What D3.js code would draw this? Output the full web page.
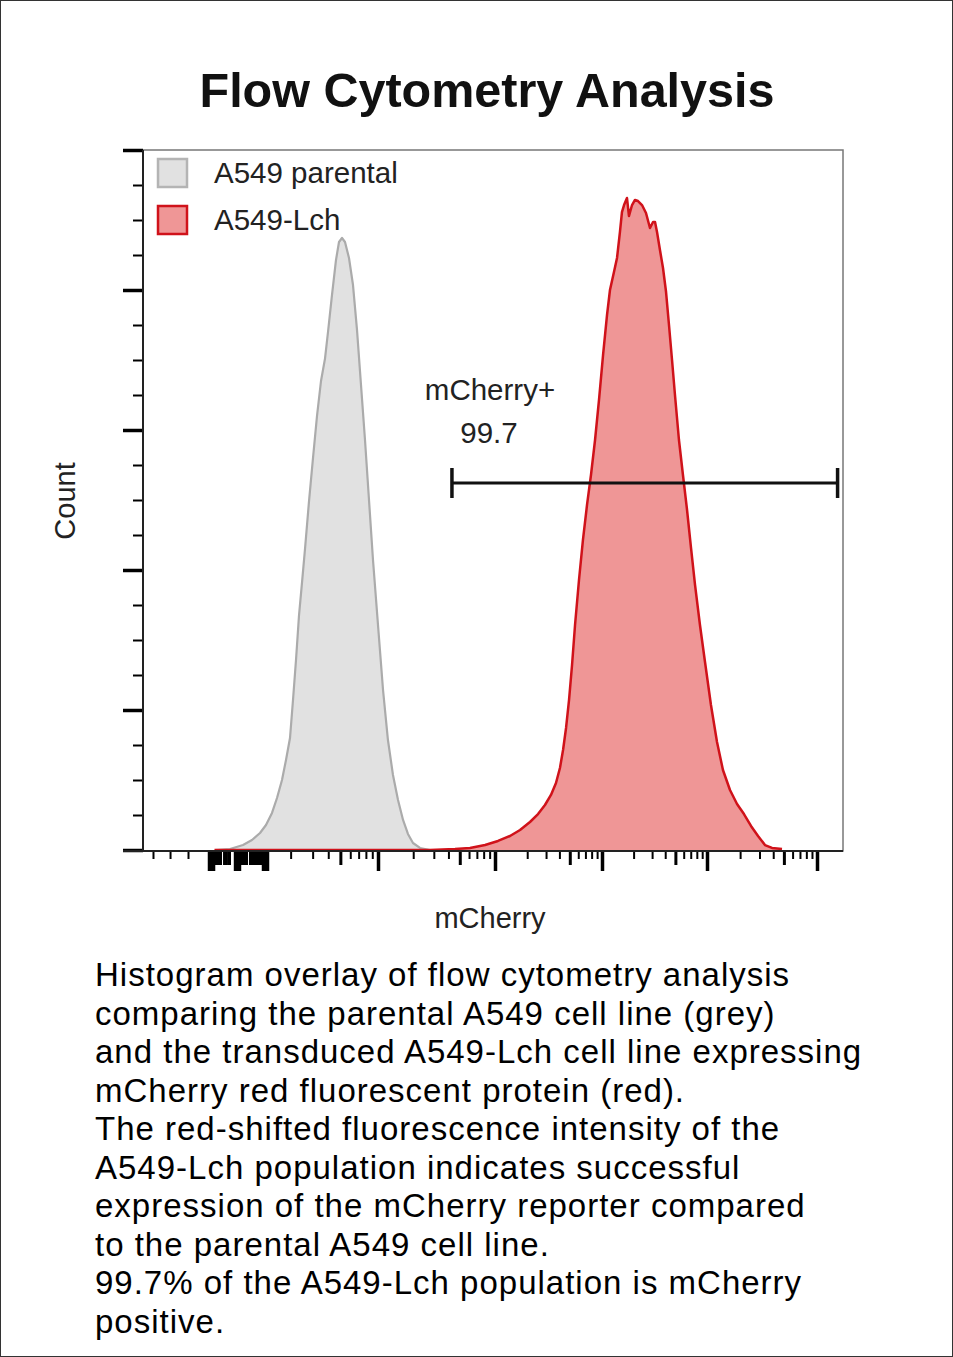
<!DOCTYPE html>
<html>
<head>
<meta charset="utf-8">
<script src="https://cdn.jsdelivr.net/npm/d3@7"></script>
<style>
  body { margin: 0; background: #fff; }
  #container { width: 953px; height: 1357px; }
</style>
</head>
<body>
<div id="container"></div>
<script>
/* DATA */
// x = log10 mCherry intensity (biex display), y = count (% of axis max)
const parentalX = [-0.415, -0.251, -0.109, -0.011, 0.056, 0.104, 0.152, 0.192, 0.232, 0.264, 0.296, 0.32, 0.344, 0.368, 0.392, 0.416, 0.448, 0.48, 0.512, 0.544, 0.576, 0.6, 0.632, 0.664, 0.688, 0.712, 0.736, 0.768, 0.8, 0.832, 0.864, 0.896, 0.928, 0.96, 1.0, 1.043, 1.085, 1.128, 1.171, 1.214, 1.256, 1.299, 1.359, 1.444];
const parentalY = [0, 0.14, 0.71, 1.43, 2.43, 3.57, 5.29, 7.43, 10, 12.86, 16, 21.43, 27.14, 33.5, 38.2, 43, 49.8, 56, 62, 67, 70.2, 74, 79.29, 84.29, 86.86, 87.43, 86.86, 84.57, 80.71, 74.29, 66.43, 58.57, 50, 41.43, 32.14, 22.86, 15.71, 10.71, 7.14, 4.29, 2.29, 1, 0.29, 0];

const lchX = [-0.42, 1.444, 1.658, 1.786, 1.915, 2.028, 2.14, 2.234, 2.327, 2.402, 2.467, 2.523, 2.57, 2.607, 2.636, 2.664, 2.692, 2.72, 2.748, 2.785, 2.822, 2.86, 2.897, 2.935, 2.972, 3.01, 3.048, 3.076, 3.114, 3.143, 3.171, 3.19, 3.21, 3.238, 3.257, 3.286, 3.314, 3.343, 3.381, 3.419, 3.457, 3.486, 3.505, 3.524, 3.552, 3.581, 3.61, 3.638, 3.667, 3.695, 3.733, 3.771, 3.81, 3.848, 3.886, 3.933, 3.981, 4.036, 4.091, 4.145, 4.209, 4.273, 4.336, 4.4, 4.464, 4.527, 4.591, 4.682];
const lchY = [0, 0, 0.14, 0.29, 0.71, 1.29, 2, 2.86, 4, 5.14, 6.43, 7.86, 9.57, 11.71, 14.29, 17.43, 21.43, 26.43, 32.14, 38.57, 44.29, 49.29, 53.57, 58.57, 64.29, 70.71, 76.43, 80, 82.57, 84.57, 88.29, 91.14, 92.14, 93.14, 90.57, 92.14, 92.86, 92.71, 92.14, 91, 88.86, 89.71, 89.71, 88.29, 85.71, 83.14, 79.71, 75, 70, 65, 58.57, 53.57, 48.57, 43.14, 37.86, 32.14, 26.86, 20.71, 15.43, 11.43, 8.57, 6.57, 5.14, 3.43, 2, 0.71, 0.29, 0.14];

const seriesNames = ["A549 parental", "A549-Lch"];
const gateLabel = "mCherry+";
const gateValue = "99.7";
const gateRange = [1.632, 5.19];
const gateLevel = 52.43;

// axis ticks (x in log10 units)
const xDecades = [0, 1, 2, 3, 4];
const xMajorTicks = [1, 2, 3, 4, 5];
const xNegTicks = [-1.091, -0.905, -0.709];
const xZeroBigTicks = [-0.48, -0.458, -0.436, -0.196, -0.175, -0.153, 0.08, 0.096, 0.112];
const xZeroMidTicks = [-0.404, -0.382, -0.36, -0.316, -0.295, -0.262, -0.12, -0.098, -0.076, -0.033, -0.011, 0.016, 0.04, 0.056];
const yMajorTicks = [0, 20, 40, 60, 80, 100];
const yMinorTicks = d3.range(0, 100, 5).filter(v => v % 20 !== 0);

const captionLines = [
  "Histogram overlay of flow cytometry analysis",
  "comparing the parental A549 cell line (grey)",
  "and the transduced A549-Lch cell line expressing",
  "mCherry red fluorescent protein (red).",
  "The red-shifted fluorescence intensity of the",
  "A549-Lch population indicates successful",
  "expression of the mCherry reporter compared",
  "to the parental A549 cell line.",
  "99.7% of the A549-Lch population is mCherry",
  "positive."
];

/* CONSTANTS */
const width = 953, height = 1357;
const plot = { left: 143, right: 843, top: 150, bottom: 850 };
const labelFont = "'Liberation Sans', Arial, sans-serif";

/* SCALES */
// piecewise scale mimicking the biexponential display
const xScale = d3.scaleLinear()
  .domain([-1.2, 0, 1, 2, 3, 4, 5, 5.24])
  .range([143, 253, 378, 495, 602, 707, 817, 843]);

const yScale = d3.scaleLinear()
  .domain([0, 100])
  .range([plot.bottom, plot.top]);

const svg = d3.select("#container")
  .append("svg")
  .attr("width", width)
  .attr("height", height);

// page border
svg.append("rect")
  .attr("x", 0.5).attr("y", 0.5)
  .attr("width", width - 1).attr("height", height - 1)
  .attr("fill", "none").attr("stroke", "#333");

// title
svg.append("text")
  .attr("x", 487).attr("y", 107)
  .attr("text-anchor", "middle")
  .attr("font-family", labelFont)
  .attr("font-weight", "bold")
  .attr("font-size", 48.5)
  .attr("fill", "#111")
  .text("Flow Cytometry Analysis");

// plot frame
svg.append("rect")
  .attr("x", plot.left).attr("y", plot.top)
  .attr("width", plot.right - plot.left).attr("height", plot.bottom - plot.top + 1)
  .attr("fill", "none").attr("stroke", "#777").attr("stroke-width", 1.5);

/* HISTOGRAMS */
const area = d3.area()
  .x(d => xScale(d[0]))
  .y0(yScale(0))
  .y1(d => yScale(d[1]));

const line = d3.line()
  .x(d => xScale(d[0]))
  .y(d => yScale(d[1]));

const parental = parentalX.map((x, i) => [x, parentalY[i]]);
const lch = lchX.map((x, i) => [x, lchY[i]]);

svg.append("path").datum(parental)
  .attr("d", area).attr("fill", "#e1e1e1");
svg.append("path").datum(parental)
  .attr("d", line).attr("fill", "none")
  .attr("stroke", "#ababab").attr("stroke-width", 2.2)
  .attr("stroke-linejoin", "round");

svg.append("path").datum(lch)
  .attr("d", area).attr("fill", "#ef9696");
svg.append("path").datum(lch)
  .attr("d", line).attr("fill", "none")
  .attr("stroke", "#d0121a").attr("stroke-width", 2.5)
  .attr("stroke-linejoin", "round");

/* AXES */
function styleTicks(g, w) {
  g.select(".domain").remove();
  g.selectAll("text").remove();
  g.selectAll("line").attr("stroke", "#000").attr("stroke-width", w);
}

// y axis
svg.append("g")
  .attr("transform", `translate(${plot.left}, 0)`)
  .call(d3.axisLeft(yScale).tickValues(yMinorTicks).tickSize(10))
  .call(g => styleTicks(g, 2));
svg.append("g")
  .attr("transform", `translate(${plot.left}, 0)`)
  .call(d3.axisLeft(yScale).tickValues(yMajorTicks).tickSize(20))
  .call(g => styleTicks(g, 3.5));
svg.append("line")
  .attr("x1", plot.left).attr("x2", plot.left)
  .attr("y1", plot.top).attr("y2", plot.bottom + 1)
  .attr("stroke", "#222").attr("stroke-width", 2);

// x axis
const minorK = [2, 3, 4, 6, 7, 8, 9];
const xMinorTicks = xDecades.flatMap(d => minorK.map(k => d + Math.log10(k)));
const xMidTicks = xDecades.map(d => d + Math.log10(5));
const xAxisY = plot.bottom + 1;

const xTickSets = [
  { values: xNegTicks.concat(xMinorTicks), size: 8, w: 2 },
  { values: xZeroMidTicks.concat(xMidTicks), size: 14, w: 3 },
  { values: xZeroBigTicks.concat(xMajorTicks), size: 20, w: 3.5 }
];
xTickSets.forEach(s => {
  svg.append("g")
    .attr("transform", `translate(0, ${xAxisY})`)
    .call(d3.axisBottom(xScale).tickValues(s.values).tickSize(s.size))
    .call(g => styleTicks(g, s.w));
});
svg.append("line")
  .attr("x1", plot.left - 20).attr("x2", plot.right)
  .attr("y1", xAxisY).attr("y2", xAxisY)
  .attr("stroke", "#222").attr("stroke-width", 2);

// axis titles
svg.append("text")
  .attr("x", 490).attr("y", 928)
  .attr("text-anchor", "middle")
  .attr("font-family", labelFont).attr("font-size", 29)
  .attr("fill", "#222")
  .text("mCherry");
svg.append("text")
  .attr("transform", "translate(75, 501) rotate(-90)")
  .attr("text-anchor", "middle")
  .attr("font-family", labelFont).attr("font-size", 29)
  .attr("fill", "#222")
  .text("Count");

/* GATE */
const gy = yScale(gateLevel);
const gate = svg.append("g").attr("stroke", "#111").attr("stroke-width", 3);
gate.append("line")
  .attr("x1", xScale(gateRange[0])).attr("x2", xScale(gateRange[1]))
  .attr("y1", gy).attr("y2", gy);
gateRange.forEach(v => {
  gate.append("line")
    .attr("x1", xScale(v)).attr("x2", xScale(v))
    .attr("y1", gy - 15).attr("y2", gy + 15)
    .attr("stroke-width", 3.5);
});
svg.append("text")
  .attr("x", 490).attr("y", 400)
  .attr("text-anchor", "middle")
  .attr("font-family", labelFont).attr("font-size", 29.5)
  .attr("fill", "#222")
  .text(gateLabel);
svg.append("text")
  .attr("x", 489).attr("y", 443)
  .attr("text-anchor", "middle")
  .attr("font-family", labelFont).attr("font-size", 29.5)
  .attr("fill", "#222")
  .text(gateValue);

/* LEGEND */
const legendColors = [
  { fill: "#e1e1e1", stroke: "#b4b4b4" },
  { fill: "#ef9696", stroke: "#d0121a" }
];
const legend = svg.append("g").attr("transform", "translate(158, 159)");
seriesNames.forEach((name, i) => {
  const row = legend.append("g").attr("transform", `translate(0, ${i * 47})`);
  row.append("rect")
    .attr("width", 29).attr("height", 28)
    .attr("fill", legendColors[i].fill)
    .attr("stroke", legendColors[i].stroke)
    .attr("stroke-width", 2.5);
  row.append("text")
    .attr("x", 56).attr("y", 24)
    .attr("font-family", labelFont).attr("font-size", 29.5)
    .attr("fill", "#222")
    .text(name);
});

/* CAPTION */
// one text per line; font metrics chosen so line boxes fit the tight leading
svg.append("g")
  .attr("font-family", "'Liberation Sans', Arial, sans-serif")
  .attr("font-size", 33)
  .attr("letter-spacing", 1)
  .attr("fill", "#000")
  .selectAll("text")
  .data(captionLines)
  .join("text")
  .attr("x", 95)
  .attr("y", (d, i) => 986 + i * 38.5)
  .text(d => d);
</script>
</body>
</html>
